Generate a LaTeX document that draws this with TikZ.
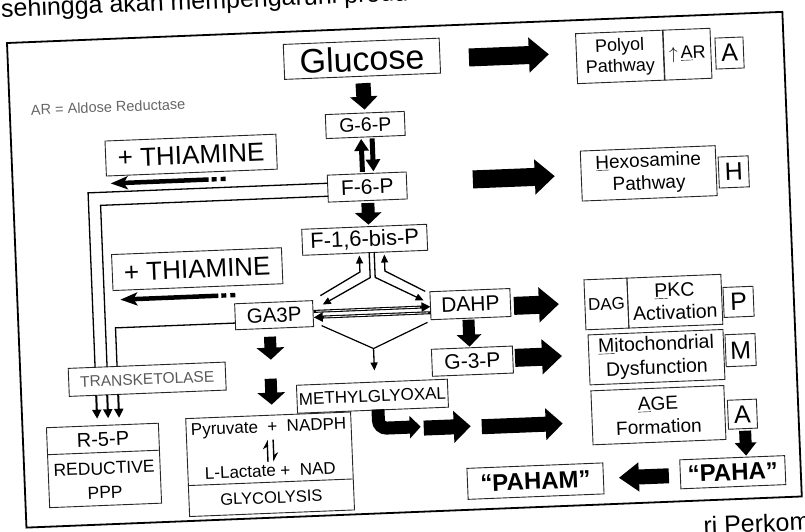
\documentclass[tikz,border=0pt]{standalone}
\usepackage{fontspec}
\setmainfont{Liberation Sans}
\usetikzlibrary{arrows.meta,calc}
\newcommand\fsz[2]{\fontsize{#1}{#2}\selectfont}
\begin{document}
\begin{tikzpicture}[x=1pt,y=-1pt,
  bx/.style={draw=black!85, line width=0.9pt, inner sep=1pt, align=center},
  blk/.style={line width=18pt, -{Triangle[length=20pt,width=34pt]}},
  blkb/.style={line width=15pt, -{Triangle[length=17pt,width=31pt]}},
  dnar/.style={line width=13pt, -{Triangle[length=12pt,width=26pt]}},
  thn/.style={line width=1.3pt, -{Triangle[length=8pt,width=7pt]}},
  pipe/.style={line width=1.3pt},
  hollow/.style={line width=3pt, -{Triangle[length=9pt,width=9pt]}},
  harp/.style={line width=1.4pt, -{Stealth[left,length=8pt,width=9pt]}}]
\clip (0,0) rectangle (805,531);
\fill[white] (0,0) rectangle (805,531);
\begin{scope}[shift={(7,43)}, rotate=2.3, transform shape]
% frame and outside text
\draw[line width=1.8pt] (0,0) rectangle (776,485);
\node[anchor=base west, font=\fsz{25}{27}] (hdr) at (-8,-26) {sehingga akan mempengaruhi produksi};
\node[anchor=base west, font=\fsz{25}{27}] (ftr) at (673,519) {ri Perkom};
% boxes
\node[bx, minimum width=156pt, minimum height=35pt, font=\fsz{34}{36}] (glu) at (354,30) {Glucose};
\node[bx, minimum width=87pt, minimum height=50pt, font=\fsz{18}{21}] (pol) at (612,38.5) {Polyol\\Pathway};
\node[bx, minimum width=47pt, minimum height=50pt, font=\fsz{18}{20}] (ar) at (679.5,38.5) {$\uparrow$\,\underline{A}R};
\node[bx, minimum width=28pt, minimum height=31pt, font=\fsz{25}{27}] (la1) at (721.6,39) {A};
\node[font=\fsz{14.5}{17}, text=black!60] (arnote) at (98.5,68) {AR = Aldose Reductase};
\node[bx, minimum width=79pt, minimum height=24pt, font=\fsz{19.5}{21}] (g6p) at (354.7,96.3) {G-6-P};
\node[bx, minimum width=79pt, minimum height=27pt, font=\fsz{21}{23}] (f6p) at (354.2,158.4) {F-6-P};
\node[bx, minimum width=125pt, minimum height=26pt, font=\fsz{22}{24}] (f16) at (349.5,211) {F-1,6-bis-P};
\node[bx, minimum width=171pt, minimum height=35pt, font=\fsz{26}{28}] (thi1) at (179.5,119.4) {+ THIAMINE};
\node[bx, minimum width=170pt, minimum height=36pt, font=\fsz{26}{28}] (thi2) at (181,233.6) {+ THIAMINE};
\node[bx, minimum width=135pt, minimum height=50pt, font=\fsz{19}{22.5}] (hex) at (636,156) {\underline{H}exosamine\\Pathway};
\node[bx, minimum width=30pt, minimum height=31pt, font=\fsz{25}{27}] (lh) at (721,158) {H};
\node[bx, minimum width=78pt, minimum height=26pt, font=\fsz{20.5}{22}] (ga3p) at (256,282.7) {GA3P};
\node[bx, minimum width=80pt, minimum height=28pt, font=\fsz{21}{23}] (dahp) at (452.6,279.5) {DAHP};
\node[bx, minimum width=43pt, minimum height=50pt, font=\fsz{17}{19}] (dag) at (588.5,284.8) {DAG};
\node[bx, minimum width=94pt, minimum height=50pt, font=\fsz{19.5}{22.5}] (pkc) at (657,284.8) {\underline{P}KC\\Activation};
\node[bx, minimum width=30pt, minimum height=30pt, font=\fsz{25}{27}] (lp) at (720.6,288) {P};
\node[bx, minimum width=135pt, minimum height=50pt, font=\fsz{19.5}{23.5}] (mito) at (636.4,340) {\underline{M}itochondrial\\Dysfunction};
\node[bx, minimum width=30pt, minimum height=32pt, font=\fsz{25}{27}] (lm) at (720.7,336.3) {M};
\node[bx, minimum width=81pt, minimum height=27pt, font=\fsz{21}{23}] (g3p) at (452.3,336.6) {G-3-P};
\node[bx, minimum width=151pt, minimum height=28pt, font=\fsz{17}{19}] (mg) at (351,367.6) {METHYLGLYOXAL};
\node[bx, minimum width=133pt, minimum height=54pt, font=\fsz{19}{23.5}] (age) at (636,398) {\underline{A}GE\\Formation};
\node[bx, minimum width=29pt, minimum height=29pt, font=\fsz{25}{27}] (la2) at (720,400.4) {A};
\node[bx, minimum width=105pt, minimum height=29pt, font=\bfseries\fsz{24}{26}] (paha) at (708,458) {“PAHA”};
\node[bx, minimum width=136pt, minimum height=31pt, font=\bfseries\fsz{24}{26}] (paham) at (510.5,459) {“PAHAM”};
\node[bx, minimum width=157pt, minimum height=28pt, font=\fsz{15.5}{17}, text=black!65] (tk) at (126.6,341.6) {TRANSKETOLASE};
% R-5-P box
\node[bx, minimum width=112pt, minimum height=80pt] (r5p) at (80,426) {};
\draw[draw=black!85, line width=0.9pt] (24,413) -- (136,413);
\node[font=\fsz{20}{22}] (r5ptxt) at (80,400) {R-5-P};
\node[font=\fsz{17.5}{19}] (redtxt) at (80,429) {REDUCTIVE};
\node[font=\fsz{17.5}{19}] (ppptxt) at (80,453) {PPP};
% glycolysis box
\node[bx, minimum width=165pt, minimum height=98pt] (glyc) at (246,431.5) {};
\draw[draw=black!85, line width=0.9pt] (163.5,449.5) -- (328.5,449.5);
\node[font=\fsz{17}{19}] (pyr) at (246,395.5) {Pyruvate \ + \ NADPH};
\node[font=\fsz{17}{19}] (lac) at (246,438) {L-Lactate + \ NAD};
\node[font=\fsz{16.5}{18}] (gly) at (246,465) {GLYCOLYSIS};
\coordinate (hu1) at (244,429); \coordinate (hu2) at (244,407);
\coordinate (hd1) at (250,407); \coordinate (hd2) at (250,429);
\draw[harp] (hu1) -- (hu2);
\draw[harp] (hd1) -- (hd2);
% main vertical arrows
\draw[line width=15pt, -{Triangle[length=13pt,width=27pt]}, shorten <=6.5pt, shorten >=3pt] (glu.south) -- (g6p.north);
\draw[line width=5pt, -{Triangle[length=12pt,width=14pt]}] (350,143) -- (350,110);
\draw[line width=5pt, -{Triangle[length=12pt,width=14pt]}] (361,110) -- (361,143);
\draw[dnar, shorten <=2pt, shorten >=1pt] (f6p.south) -- (354,197);
\draw[line width=12pt, -{Triangle[length=12pt,width=24pt]}] (450,295) -- (450,322);
\draw[line width=12pt, -{Triangle[length=12pt,width=27pt]}] (251,304) -- (251,327);
\draw[line width=12pt, -{Triangle[length=12pt,width=27pt]}] (250,346) -- (250,372);
% block arrows to the right column
\draw[blk] (461,33) -- (541,33);
\draw[blk] (460,155) -- (542,155);
\draw[blk] (496,283) -- (541,283);
\draw[blk] (495,335) -- (542,335);
\draw[line width=13pt, rounded corners=8pt, -{Triangle[length=11pt,width=22pt]}] (356,381) -- (356,400) -- (398,400);
\draw[blkb] (401,401.5) -- (448,401.5);
\draw[blkb] (459,402.5) -- (540,402.5);
\draw[line width=12pt, -{Triangle[length=13pt,width=21pt]}] (722,417) -- (722,442);
\draw[line width=15pt, -{Triangle[length=20pt,width=28pt]}] (644,459) -- (594,459);
% thiamine arrows
\draw[line width=4.5pt, -{Stealth[length=17pt,width=13pt,inset=4pt]}] (196,144.5) -- (98,144.5);
\fill (199,142.3) rectangle (204,146.7);
\fill (208,142.3) rectangle (213,146.7);
\draw[line width=4.5pt, -{Stealth[length=17pt,width=13pt,inset=4pt]}] (201,261) -- (103,261);
\fill (204,258.8) rectangle (209,263.2);
\fill (213,258.8) rectangle (218,263.2);
% transketolase pipes
\draw[pipe] (314.7,153) -- (75,153) -- (75,327.6);
\draw[pipe] (314.7,166) -- (87,166) -- (87,327.6);
\draw[pipe] (217,289) -- (97,289) -- (97,327.6);
\draw[line width=2pt, -{Triangle[length=9pt,width=9pt]}] (75,355.6) -- (75,379);
\draw[line width=2pt, -{Triangle[length=9pt,width=9pt]}] (86,355.6) -- (86,379);
\draw[line width=2pt, -{Triangle[length=9pt,width=9pt]}] (97,355.6) -- (97,379);
% aldolase / triose isomerase arrows
\draw[thn] (303,265) -- (343.5,243) -- (343.5,226.5);
\draw[thn] (408,265) -- (368.5,243) -- (368.5,226.5);
\draw[thn] (353.5,224) -- (353.5,249) -- (305,274);
\draw[thn] (358.5,224) -- (358.5,249) -- (406,274);
\draw[hollow] (295.5,280.5) -- (412.6,280.5);
\draw[white, line width=0.8pt] (298,280.5) -- (402,280.5);
\draw[hollow] (412.6,286.5) -- (295.5,286.5);
\draw[white, line width=0.8pt] (410,286.5) -- (306,286.5);
\draw[line width=1.2pt] (303,295) -- (354,320) -- (409,296);
\draw[thn] (354,320) -- (354,342);
\end{scope}
\end{tikzpicture}
\end{document}
